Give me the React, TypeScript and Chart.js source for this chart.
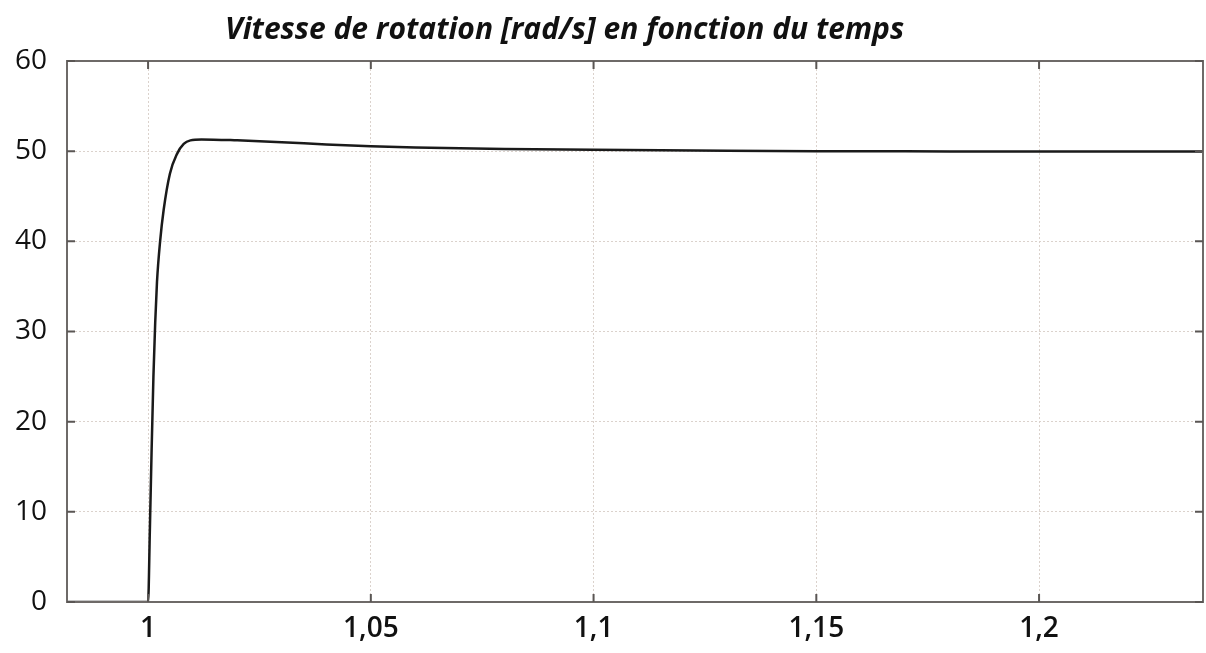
import React, { useEffect, useRef } from "react";
import { Chart, registerables } from "chart.js";

Chart.register(...registerables);

const TITLE = "Vitesse de rotation [rad/s] en fonction du temps";
const timeValues = [0.9818, 0.99, 1.0, 1.0004, 1.0008, 1.0012, 1.0016, 1.002, 1.0027, 1.0035, 1.0049, 1.0065, 1.008, 1.0095, 1.012, 1.02, 1.03, 1.04, 1.05, 1.06, 1.08, 1.1, 1.13, 1.15, 1.18, 1.2, 1.2368];
const speedValues = [0, 0, 0, 8, 17, 25, 31, 35.5, 40, 43.5, 47.5, 49.7, 50.8, 51.2, 51.3, 51.2, 51.0, 50.75, 50.55, 50.4, 50.25, 50.15, 50.05, 50.0, 49.97, 49.95, 49.95];
const xTickValues = [1, 1.05, 1.1, 1.15, 1.2];
const xTickLabels = ["1", "1,05", "1,1", "1,15", "1,2"];
const yTickValues = [0, 10, 20, 30, 40, 50, 60];

export default function App() {
  const ref = useRef<HTMLCanvasElement>(null);
  useEffect(() => {
    if (!ref.current) return;
    const framePlugin = {
      id: "frame",
      afterDraw(chart: any) {
        const { ctx, chartArea: a, scales } = chart;
        ctx.save();
        ctx.strokeStyle = "#6e6a68";
        ctx.lineWidth = 2;
        ctx.strokeRect(a.left, a.top, a.right - a.left, a.bottom - a.top);
        ctx.strokeStyle = "#5a5654";
        xTickValues.forEach((v) => {
          const px = scales.x.getPixelForValue(v);
          ctx.beginPath();
          ctx.moveTo(px, a.bottom); ctx.lineTo(px, a.bottom - 8);
          ctx.moveTo(px, a.top); ctx.lineTo(px, a.top + 8);
          ctx.stroke();
        });
        yTickValues.forEach((v) => {
          const py = scales.y.getPixelForValue(v);
          ctx.beginPath();
          ctx.moveTo(a.left, py); ctx.lineTo(a.left + 8, py);
          ctx.moveTo(a.right, py); ctx.lineTo(a.right - 8, py);
          ctx.stroke();
        });
        ctx.fillStyle = "#111";
        ctx.font = "bold italic 30px 'Open Sans'";
        ctx.textAlign = "center";
        ctx.textBaseline = "middle";
        ctx.fillText(TITLE, a.left + (a.right - a.left) * 0.438, 30);
        ctx.restore();
      },
    };
    const chart = new Chart(ref.current, {
      type: "line",
      data: {
        datasets: [
          {
            label: "Vitesse",
            data: timeValues.map((t, i) => ({ x: t, y: speedValues[i] })),
            borderColor: "#1a1a1a",
            borderWidth: 2.5,
            pointRadius: 0,
            cubicInterpolationMode: "monotone",
            fill: false,
          },
        ],
      },
      options: {
        animation: false,
        responsive: false,
        maintainAspectRatio: false,
        layout: { padding: { top: 61, right: 3, left: 0, bottom: 0 } },
        plugins: { legend: { display: false }, title: { display: false }, tooltip: { enabled: false } },
        scales: {
          x: {
            type: "linear",
            min: 0.9818,
            max: 1.2368,
            afterBuildTicks: (s: any) => {
              s.ticks = xTickValues.map((v) => ({ value: v }));
            },
            afterFit: (s: any) => {
              s.height = 51;
            },
            grid: { color: "#dbd2cc", lineWidth: 1, drawTicks: false },
            border: { display: false, dash: [2, 2] },
            ticks: {
              color: "#111",
              font: { family: "'Open Sans'", size: 28, weight: "600" },
              padding: 10,
              maxRotation: 0,
              callback: (v: any) => {
                const i = xTickValues.findIndex((t) => Math.abs(t - v) < 1e-9);
                return i >= 0 ? xTickLabels[i] : "";
              },
            },
          },
          y: {
            min: 0,
            max: 60,
            afterBuildTicks: (s: any) => {
              s.ticks = yTickValues.map((v) => ({ value: v }));
            },
            afterFit: (s: any) => {
              s.width = 67;
            },
            grid: { color: "#dbd2cc", lineWidth: 1, drawTicks: false },
            border: { display: false, dash: [2, 2] },
            ticks: {
              color: "#111",
              font: { family: "'Open Sans'", size: 28 },
              padding: 20,
            },
          },
        },
      },
      plugins: [framePlugin],
    });
    return () => chart.destroy();
  }, []);
  return (
    <div style={{ position: "fixed", left: 0, top: 0, width: 1206, height: 653, background: "#fff" }}>
      <canvas ref={ref} width={1206} height={653} style={{ width: 1206, height: 653 }} />
    </div>
  );
}
